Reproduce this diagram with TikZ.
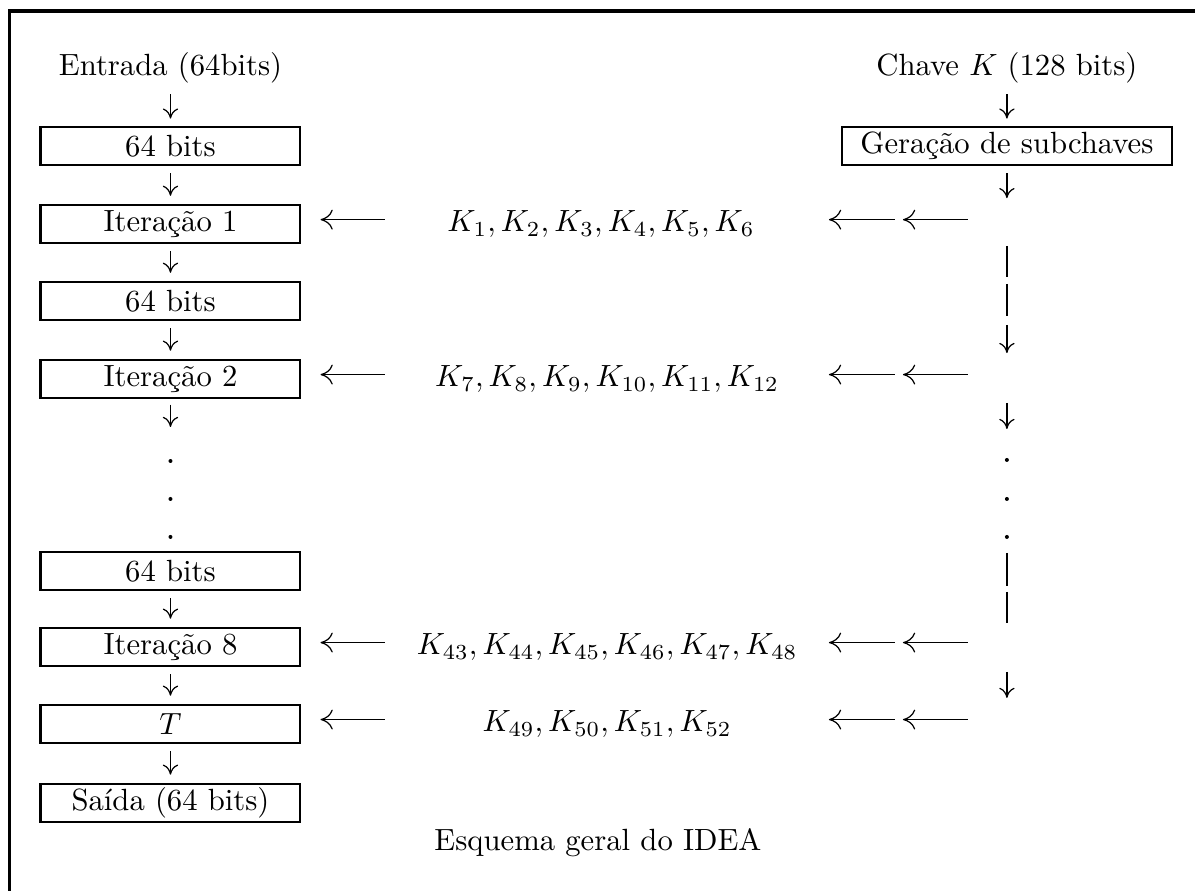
\documentclass[tikz,border=0pt]{standalone}
\usetikzlibrary{arrows.meta}

\tikzset{
    etapa/.style={draw, line width=0.9pt, minimum width=2.97cm, minimum height=0.435cm, inner sep=0pt},
    seta/.style={-{To[length=3.3pt,width=5pt]}, line width=0.4pt},
    lseta/.style={-{To[length=4pt,width=6.5pt]}, line width=0.4pt},
    desce/.style={seta, shorten <=0.08cm, shorten >=0.09cm},
    ponto/.style={circle, fill, inner sep=0pt, minimum size=1.3pt},
}

\begin{document}
\begin{tikzpicture}
    \useasboundingbox (0,0) rectangle (13.69,-10.21);
    % Frame
    \draw[line width=1.1pt] (13.69,-0.126) -- (0.109,-0.126) -- (0.109,-10.21);

    % Draw nodes (bloco de dados)
    \node (entrada) at (1.953,-0.779) {Entrada (64bits)};
    \node[etapa] (b1) at (1.953,-1.672) {64 bits};
    \node[etapa] (it1) at (1.953,-2.566) {Iteração 1};
    \node[etapa] (b2) at (1.953,-3.448) {64 bits};
    \node[etapa] (it2) at (1.953,-4.341) {Iteração 2};
    \node[ponto] (p1) at (1.953,-5.281) {};
    \node[ponto] (p2) at (1.953,-5.716) {};
    \node[ponto] (p3) at (1.953,-6.151) {};
    \node[etapa] (b3) at (1.953,-6.541) {64 bits};
    \node[etapa] (it8) at (1.953,-7.411) {Iteração 8};
    \node[etapa] (tt) at (1.953,-8.293) {$T$};
    \node[etapa] (saida) at (1.953,-9.198) {Saída (64 bits)};

    % Draw nodes (chave)
    \node (chave) at (11.535,-0.779) {Chave $K$ (128 bits)};
    \node[etapa, minimum width=3.78cm] (gera) at (11.535,-1.672) {Geração de subchaves};
    \node[ponto] (q1) at (11.535,-5.269) {};
    \node[ponto] (q2) at (11.535,-5.716) {};
    \node[ponto] (q3) at (11.535,-6.151) {};

    % Subchaves
    \node (k1) at (6.885,-2.566) {$K_1, K_2, K_3, K_4, K_5, K_6$};
    \node (k2) at (6.955,-4.341) {$K_7, K_8, K_9, K_{10}, K_{11}, K_{12}$};
    \node (k3) at (6.955,-7.411) {$K_{43}, K_{44}, K_{45}, K_{46}, K_{47}, K_{48}$};
    \node (k4) at (6.955,-8.293) {$K_{49}, K_{50}, K_{51}, K_{52}$};

    \node (legenda) at (6.85,-9.656) {Esquema geral do IDEA};

    % Coordinates
    \coordinate (r1) at (11.535,-2.27);
    \coordinate (v1) at (11.535,-2.818);
    \coordinate (v2) at (11.535,-3.173);
    \coordinate (v3) at (11.535,-3.253);
    \coordinate (v4) at (11.535,-3.62);
    \coordinate (v5) at (11.535,-3.723);
    \coordinate (v6) at (11.535,-4.044);
    \coordinate (v7) at (11.535,-4.616);
    \coordinate (v8) at (11.535,-4.914);
    \coordinate (v9) at (11.535,-6.334);
    \coordinate (v10) at (11.535,-6.712);
    \coordinate (v11) at (11.535,-6.781);
    \coordinate (v12) at (11.535,-7.136);
    \coordinate (v13) at (11.535,-7.698);
    \coordinate (v14) at (11.535,-7.995);

    \coordinate (e1) at (4.41,-2.516);
    \coordinate (e2) at (4.41,-4.291);
    \coordinate (e3) at (4.41,-7.361);
    \coordinate (e4) at (4.41,-8.243);
    \coordinate (d1) at (11.088,-2.516);
    \coordinate (d2) at (11.088,-4.291);
    \coordinate (d3) at (11.088,-7.361);
    \coordinate (d4) at (11.088,-8.243);
    \coordinate (c1) at (10.298,-2.516);
    \coordinate (c2) at (10.298,-4.291);
    \coordinate (c3) at (10.298,-7.361);
    \coordinate (c4) at (10.298,-8.243);
    \coordinate (f1) at (9.496,-2.516);
    \coordinate (f2) at (9.496,-4.291);
    \coordinate (f3) at (9.496,-7.361);
    \coordinate (f4) at (9.496,-8.243);

    % Draw connections (dados)
    \draw[seta, shorten >=0.08cm] (entrada) -- (b1);
    \draw[desce] (b1) -- (it1);
    \draw[desce] (it1) -- (b2);
    \draw[desce] (b2) -- (it2);
    \draw[seta, shorten <=0.06cm, shorten >=0.36cm] (it2) -- (p1);
    \draw[desce] (b3) -- (it8);
    \draw[desce] (it8) -- (tt);
    \draw[desce] (tt) -- (saida);

    % Draw connections (chave)
    \draw[seta, shorten >=0.08cm] (chave) -- (gera);
    \draw[seta, shorten <=0.08cm] (gera) -- (r1);
    \draw (v1) -- (v2);
    \draw (v3) -- (v4);
    \draw[seta] (v5) -- (v6);
    \draw[seta] (v7) -- (v8);
    \draw (v9) -- (v10);
    \draw (v11) -- (v12);
    \draw[seta] (v13) -- (v14);

    % Subchaves para as iteracoes
    \draw[lseta, shorten >=0.218cm] (e1) -- (e1 -| it1.east);
    \draw[lseta, shorten >=0.218cm] (e2) -- (e2 -| it2.east);
    \draw[lseta, shorten >=0.218cm] (e3) -- (e3 -| it8.east);
    \draw[lseta, shorten >=0.218cm] (e4) -- (e4 -| tt.east);
    \draw[lseta, shorten >=0.046cm] (d1) -- (c1);
    \draw[lseta, shorten >=0.046cm] (d2) -- (c2);
    \draw[lseta, shorten >=0.046cm] (d3) -- (c3);
    \draw[lseta, shorten >=0.046cm] (d4) -- (c4);
    \draw[lseta, shorten <=0.046cm] (c1) -- (f1);
    \draw[lseta, shorten <=0.046cm] (c2) -- (f2);
    \draw[lseta, shorten <=0.046cm] (c3) -- (f3);
    \draw[lseta, shorten <=0.046cm] (c4) -- (f4);
\end{tikzpicture}
\end{document}
